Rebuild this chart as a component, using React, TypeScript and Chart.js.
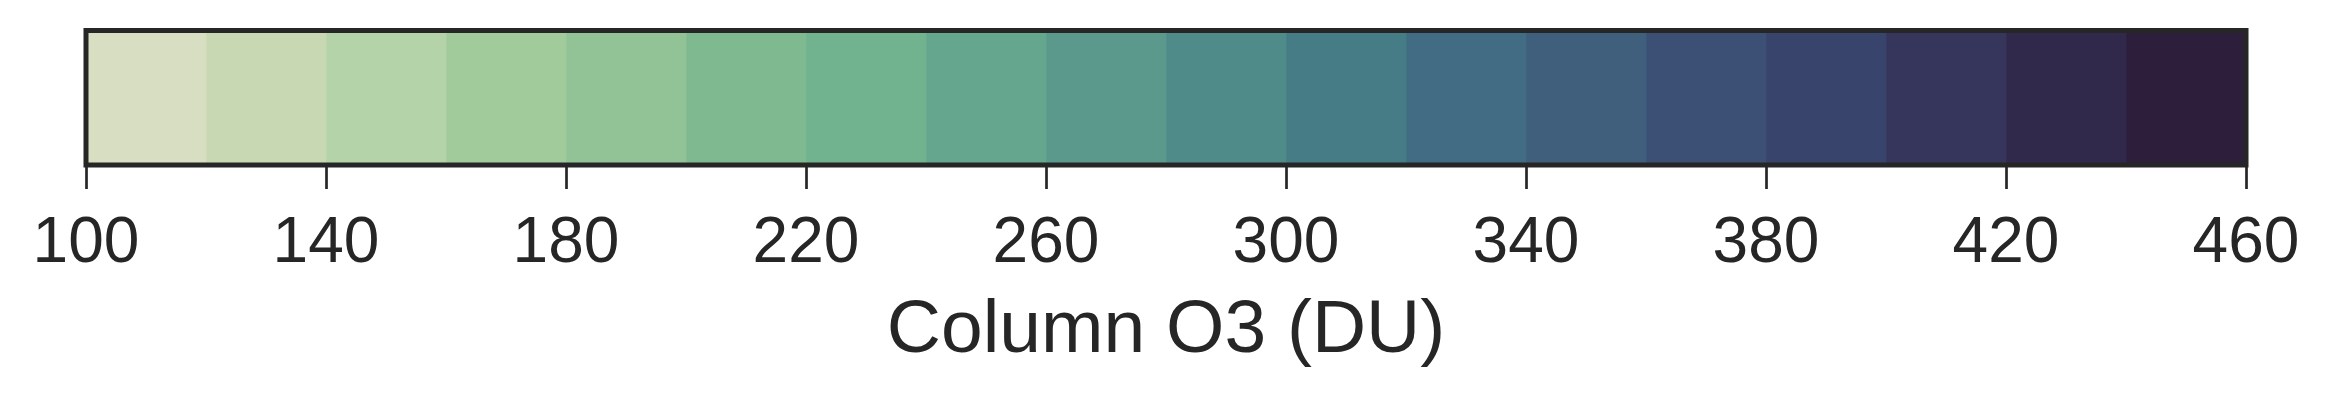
import React, { useEffect, useRef } from "react";
import { Chart, registerables } from "chart.js";

Chart.register(...registerables);

const binEdges = [100, 120, 140, 160, 180, 200, 220, 240, 260, 280, 300, 320, 340, 360, 380, 400, 420, 440, 460];
const binColors = [
  "#d7dec2", "#c8d8b3", "#b4d3a8", "#a2cb9b", "#91c396", "#7fb990",
  "#71b28f", "#65a68e", "#5a998b", "#4e8b89", "#457c85", "#426c84",
  "#3f5f7c", "#3c4f75", "#39446c", "#36355c", "#31294c", "#2d1f3c",
];
const tickValues = [100, 140, 180, 220, 260, 300, 340, 380, 420, 460];
const axisTitle = "Column O3 (DU)";

const FONT = "'Liberation Sans', Arial, Helvetica, sans-serif";
const INK = "#262626";

const framePlugin = {
  id: "frame",
  afterDatasetsDraw(chart: any) {
    const { ctx, chartArea } = chart;
    ctx.save();
    ctx.strokeStyle = INK;
    ctx.lineWidth = 5;
    ctx.strokeRect(chartArea.left, chartArea.top, chartArea.right - chartArea.left, chartArea.bottom - chartArea.top);
    ctx.restore();
  },
};

export default function App() {
  const ref = useRef<HTMLCanvasElement | null>(null);
  useEffect(() => {
    if (!ref.current) return;
    const datasets = binColors.map((c, i) => ({
      label: `${binEdges[i]}-${binEdges[i + 1]}`,
      data: [[binEdges[i], binEdges[i + 1]]] as any,
      backgroundColor: c,
      borderWidth: 0,
      grouped: false,
      barPercentage: 1,
      categoryPercentage: 1,
    }));
    const chart = new Chart(ref.current, {
      type: "bar",
      data: { labels: ["O3"], datasets },
      plugins: [framePlugin],
      options: {
        animation: false,
        responsive: false,
        indexAxis: "y",
        layout: { padding: { left: 86, right: 85, top: 30.5, bottom: 0 } },
        plugins: { legend: { display: false }, tooltip: { enabled: false } },
        scales: {
          y: { display: false, stacked: false },
          x: {
            type: "linear",
            min: 100,
            max: 460,
            afterBuildTicks: (scale: any) => {
              scale.ticks = tickValues.map((v) => ({ value: v }));
            },
            afterFit: (scale: any) => {
              scale.height = 401 - 165;
            },
            grid: {
              drawOnChartArea: false,
              drawTicks: true,
              tickLength: 24,
              tickWidth: 2.7,
              tickColor: INK,
            },
            border: { display: false },
            ticks: {
              padding: 17,
              color: INK,
              font: { family: FONT, size: 64 },
              maxRotation: 0,
              autoSkip: false,
            },
            title: {
              display: true,
              text: axisTitle,
              color: INK,
              font: { family: FONT, size: 75 },
              padding: { top: 0, bottom: 25 },
            },
          },
        },
      },
    });
    return () => chart.destroy();
  }, []);
  return (
    <div style={{ position: "fixed", left: 0, top: 0, width: 2331, height: 401, background: "#fff" }}>
      <canvas ref={ref} width={2331} height={401} style={{ display: "block" }} />
    </div>
  );
}
